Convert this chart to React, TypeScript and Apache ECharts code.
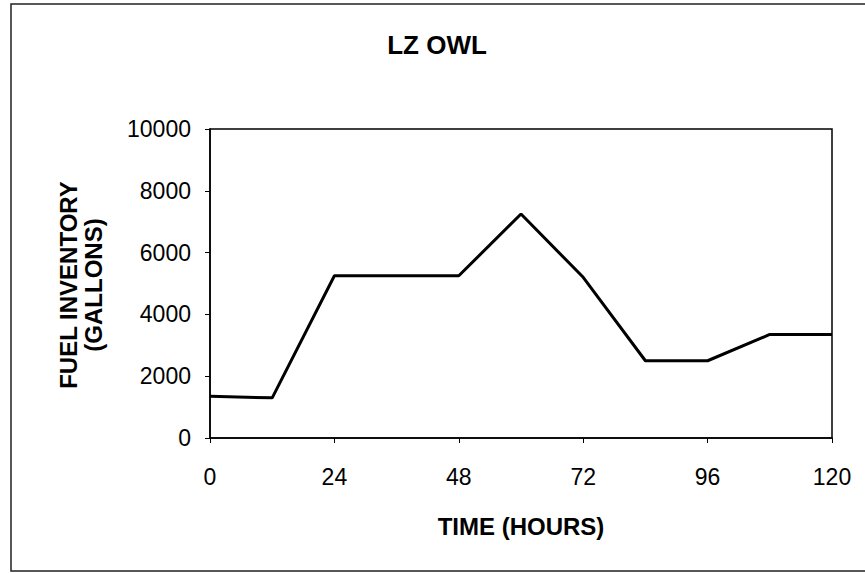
import React, { useEffect, useRef } from "react";
import * as echarts from "echarts";

const titleText = "LZ OWL";
const hours = [0, 12, 24, 36, 48, 60, 72, 84, 96, 108, 120];
const gallons = [1350, 1300, 5250, 5250, 5250, 7250, 5200, 2500, 2500, 3350, 3350];
const yTicks = [0, 2000, 4000, 6000, 8000, 10000];
const xTicks = [0, 24, 48, 72, 96, 120];
const xName = "TIME (HOURS)";
const yName = "FUEL INVENTORY\n(GALLONS)";

export default function App() {
  const ref = useRef<HTMLDivElement>(null);
  useEffect(() => {
    if (!ref.current) return;
    const chart = echarts.init(ref.current, null, { renderer: "svg" });
    const font = "'Liberation Sans', Arial, sans-serif";
    chart.setOption({
      animation: false,
      backgroundColor: "#ffffff",
      textStyle: { fontFamily: font },
      title: {
        text: titleText,
        left: 432,
        textAlign: "center",
        top: 27,
        textStyle: { fontFamily: font, fontSize: 26, fontWeight: "bold", color: "#000" },
      },
      graphic: [
        {
          type: "rect",
          shape: { x: 11, y: 4, width: 880, height: 567 },
          style: { fill: "none", stroke: "#222", lineWidth: 1.5 },
          silent: true,
        },
        {
          type: "text",
          x: 81,
          y: 285,
          rotation: Math.PI / 2,
          style: {
            text: yName,
            fontFamily: font,
            fontSize: 24,
            fontWeight: "bold",
            fill: "#000",
            align: "center",
            verticalAlign: "middle",
            lineHeight: 25,
          },
        },
      ],
      grid: {
        left: 210,
        right: 33,
        top: 129,
        bottom: 135,
        show: true,
        borderColor: "#000",
        borderWidth: 1.5,
        backgroundColor: "#fff",
      },
      xAxis: {
        type: "value",
        min: xTicks[0],
        max: xTicks[xTicks.length - 1],
        interval: 24,
        name: xName,
        nameLocation: "middle",
        nameGap: 76,
        nameTextStyle: { fontFamily: font, fontSize: 24, fontWeight: "bold", color: "#000" },
        axisLine: { show: true, lineStyle: { color: "#000", width: 1.5 } },
        axisTick: { show: true, length: 5, lineStyle: { color: "#000" } },
        axisLabel: { fontFamily: font, fontSize: 23, color: "#000", margin: 27 },
        splitLine: { show: false },
      },
      yAxis: {
        type: "value",
        min: yTicks[0],
        max: yTicks[yTicks.length - 1],
        interval: 2000,
        axisLine: { show: true, lineStyle: { color: "#000", width: 1.5 } },
        axisTick: { show: true, length: 5, lineStyle: { color: "#000" } },
        axisLabel: {
          fontFamily: font,
          fontSize: 23,
          color: "#000",
          margin: 19,
          formatter: (v: number) => String(v),
        },
        splitLine: { show: false },
      },
      series: [
        {
          type: "line",
          data: hours.map((h, i) => [h, gallons[i]]),
          showSymbol: false,
          symbol: "none",
          lineStyle: { color: "#000", width: 3 },
        },
      ],
    });
    return () => chart.dispose();
  }, []);
  return (
    <div
      ref={ref}
      style={{ position: "fixed", left: 0, top: 0, width: 865, height: 573 }}
    />
  );
}
